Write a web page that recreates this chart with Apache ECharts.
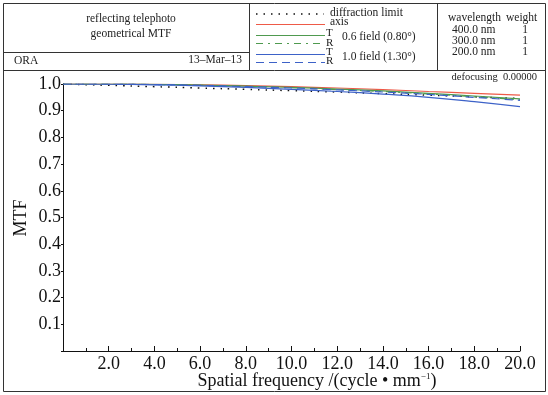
<!DOCTYPE html>
<html>
<head>
<meta charset="utf-8">
<script src="https://cdn.jsdelivr.net/npm/echarts@6/dist/echarts.min.js"></script>
<style>
  html, body { margin: 0; padding: 0; background: #fff; }
  #chart { width: 548px; height: 395px; }
</style>
</head>
<body>
<div id="chart"></div>
<script>
// spatial frequency samples (cycle/mm)
const freq = [0, 2, 4, 6, 8, 10, 12, 14, 16, 18, 20];

const diffLimit = [1.0, 0.995, 0.990, 0.985, 0.980, 0.975, 0.970, 0.964, 0.958, 0.952, 0.946];
const axisMtf   = [1.0, 1.0, 0.999, 0.997, 0.994, 0.990, 0.985, 0.979, 0.972, 0.965, 0.958];
const f06T      = [1.0, 1.0, 0.999, 0.996, 0.992, 0.987, 0.981, 0.974, 0.965, 0.955, 0.944];
const f06R      = [1.0, 1.0, 0.998, 0.995, 0.991, 0.986, 0.979, 0.972, 0.963, 0.952, 0.941];
const f10T      = [1.0, 0.999, 0.997, 0.993, 0.987, 0.980, 0.972, 0.962, 0.950, 0.934, 0.915];
const f10R      = [1.0, 1.0, 0.998, 0.995, 0.990, 0.985, 0.978, 0.970, 0.961, 0.950, 0.939];

const wavelengths = ["400.0 nm", "300.0 nm", "200.0 nm"];
const weights = ["1", "1", "1"];

const RED = "#ee5a48", GREEN = "#4f9a4f", BLUE = "#3d62c8";
const SERIF = "'Liberation Serif', 'DejaVu Serif', serif";
const DOTS = [1.5, 6];
const DASHDOT = [7, 5, 2, 5];
const DASH = [8, 5];

const pairs = (ys) => freq.map((x, i) => [x, ys[i]]);

const chart = echarts.init(document.getElementById("chart"));

function txt(x, y, s, size, align) {
  return { type: "text", x, y, style: { text: s, font: `${size}px ${SERIF}`, fill: "#222", textAlign: align || "left", textVerticalAlign: "middle" } };
}
function seg(x1, y1, x2, y2, color, dash, w) {
  return { type: "line", shape: { x1, y1, x2, y2 }, style: { stroke: color, lineWidth: w || 1, lineDash: dash || null } };
}

const graphics = [
  { type: "rect", shape: { x: 3.5, y: 3.5, width: 542, height: 388 }, style: { fill: null, stroke: "#333", lineWidth: 1 } },
  seg(3, 70.5, 546, 70.5, "#333"),
  seg(249.5, 3, 249.5, 70, "#333"),
  seg(437.5, 3, 437.5, 70, "#333"),
  seg(3, 52.5, 249, 52.5, "#333"),
  txt(131, 19, "reflecting telephoto", 11.5, "center"),
  txt(131, 34, "geometrical MTF", 11.5, "center"),
  txt(14, 61, "ORA", 11.5),
  txt(242, 60, "13\u2013Mar\u201313", 11.5, "right"),
  // legend
  seg(256, 14, 324, 14, "#111", DOTS, 1.5),
  txt(330, 13, "diffraction limit", 11.5),
  seg(256, 24.5, 325, 24.5, RED, null, 1.2),
  txt(330, 22, "axis", 11.5),
  seg(256, 35.5, 325, 35.5, GREEN, null, 1.2),
  seg(256, 43.5, 325, 43.5, GREEN, DASHDOT, 1.2),
  txt(326, 33, "T", 11),
  txt(326, 43, "R", 11),
  txt(342, 37, "0.6 field (0.80\u00b0)", 11.5),
  seg(256, 54.5, 325, 54.5, BLUE, null, 1.2),
  seg(256, 62.5, 325, 62.5, BLUE, DASH, 1.2),
  txt(326, 52, "T", 11),
  txt(326, 61, "R", 11),
  txt(342, 57, "1.0 field (1.30\u00b0)", 11.5),
  txt(448, 18, "wavelength", 11.5),
  txt(506, 18, "weight", 11.5),
  txt(537, 77, "defocusing  0.00000", 10.5, "right"),
  {
    type: "text", x: 317, y: 381,
    style: {
      text: "{n|Spatial frequency /(cycle \u2022 mm}{s|\u22121}{n|)}",
      textAlign: "center", textVerticalAlign: "middle",
      rich: {
        n: { font: `18px ${SERIF}`, fill: "#111" },
        s: { font: `9px ${SERIF}`, fill: "#111", verticalAlign: "top", padding: [0, 0, 8, 0] }
      }
    }
  },
  { type: "text", x: 21, y: 218, rotation: Math.PI / 2, style: { text: "MTF", font: `18px ${SERIF}`, fill: "#111", textAlign: "center", textVerticalAlign: "middle" } }
];
wavelengths.forEach((w, i) => {
  graphics.push(txt(452, 30 + i * 11, w, 11.5));
  graphics.push(txt(525, 30 + i * 11, weights[i], 11.5, "center"));
});

const line = (name, data, color, type, w) => ({
  name, type: "line", data: pairs(data), symbol: "none", smooth: true,
  lineStyle: { color, width: w || 1.2, type }, animation: false, z: 3
});

chart.setOption({
  backgroundColor: "#fff",
  animation: false,
  grid: { left: 63, top: 84, width: 457, height: 267 },
  xAxis: {
    type: "value", min: 0, max: 20, interval: 2,
    axisLine: { lineStyle: { color: "#111" } },
    axisTick: { inside: true, length: 5, lineStyle: { color: "#111" } },
    minorTick: { show: true, splitNumber: 2, length: 3, lineStyle: { color: "#111" } },
    splitLine: { show: false },
    axisLabel: {
      margin: 4, color: "#111", fontFamily: SERIF, fontSize: 18,
      formatter: (v) => (v === 0 ? "" : v.toFixed(1))
    }
  },
  yAxis: {
    type: "value", min: 0, max: 1, interval: 0.1,
    axisLine: { show: true, lineStyle: { color: "#111" } },
    axisTick: { show: true, inside: false, length: 2, lineStyle: { color: "#111" } },
    splitLine: { show: false },
    axisLabel: {
      margin: 2, color: "#111", fontFamily: SERIF, fontSize: 18,
      formatter: (v) => (v === 0 ? "" : v.toFixed(1))
    }
  },
  series: [
    line("diffraction limit", diffLimit, "#111", DOTS, 1.5),
    line("axis", axisMtf, RED, "solid"),
    line("0.6 field T", f06T, GREEN, "solid"),
    line("0.6 field R", f06R, GREEN, DASHDOT),
    line("1.0 field T", f10T, BLUE, "solid"),
    line("1.0 field R", f10R, BLUE, DASH)
  ],
  graphic: graphics
});
</script>
</body>
</html>
